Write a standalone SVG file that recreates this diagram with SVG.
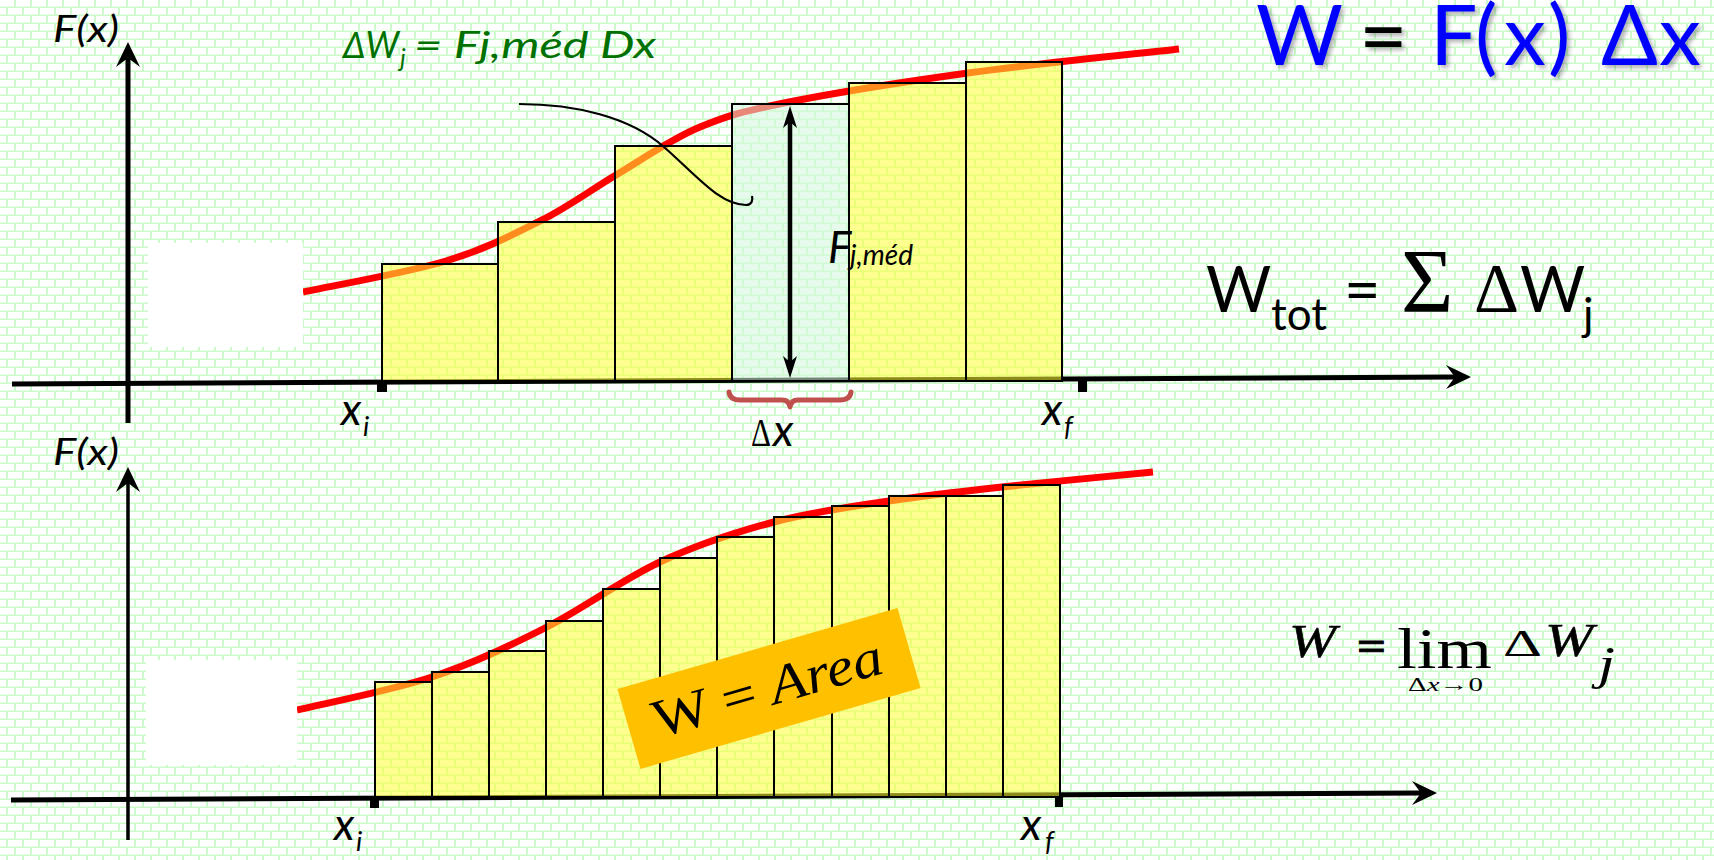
<svg xmlns="http://www.w3.org/2000/svg" width="1714" height="860" viewBox="0 0 1714 860">
<defs>
<pattern id="brick" width="16" height="16" patternUnits="userSpaceOnUse">
<rect width="16" height="16" fill="#ccfacc"/>
<rect x="0" y="0" width="14" height="6.5" fill="#fff"/>
<rect x="0" y="8" width="6" height="6.5" fill="#fff"/>
<rect x="8" y="8" width="8" height="6.5" fill="#fff"/>
</pattern>
<marker id="ah" viewBox="-12 -13 27 26" markerWidth="27" markerHeight="26" refX="0" refY="0" orient="auto" markerUnits="userSpaceOnUse" overflow="visible"><path d="M14,0 L-11,-12 L-2,0 L-11,12 Z" fill="#000"/></marker>
<marker id="ah2" viewBox="-11 -8 24 16" markerWidth="24" markerHeight="16" refX="0" refY="0" orient="auto-start-reverse" markerUnits="userSpaceOnUse" overflow="visible"><path d="M12,0 L-10,-7 L-4,0 L-10,7 Z" fill="#000"/></marker>
<filter id="sh" filterUnits="userSpaceOnUse" x="1230" y="0" width="484" height="100"><feDropShadow dx="3" dy="3" stdDeviation="2" flood-color="#000" flood-opacity="0.3"/></filter>
<style>
.ax{stroke:#000;stroke-width:5;fill:none}
.axt{stroke:#000;stroke-width:3.5;fill:none}
.bar{fill:#ffff33;fill-opacity:.55;stroke:#000;stroke-width:2}
.barg{fill:#d4f7dc;fill-opacity:.55;stroke:#000;stroke-width:2}
.curve{fill:none;stroke:#f00;stroke-width:7}
.sans{font-family:Lato,"Liberation Sans",sans-serif}
.it{font-style:italic}
.serif{font-family:"Liberation Serif",serif}
.lbl{font-family:Lato,"Liberation Sans",sans-serif;font-style:italic;fill:#000}
</style>
</defs>
<rect width="1714" height="860" fill="url(#brick)"/>

<g id="top-chart">
<g id="top-axes">
<line class="ax" x1="128" y1="423" x2="128" y2="56" marker-end="url(#ah)"/>
<line class="ax" x1="12" y1="384" x2="1457" y2="377" marker-end="url(#ah)"/>
<rect x="377" y="382" width="10" height="10" fill="#000"/>
<rect x="1078" y="381" width="9" height="11" fill="#000"/>
</g>
<path id="top-curve" class="curve" d="M303,292 C326.8,286.8 406,273 446,261 C485.8,249 514,234 542,220 C570,205.7 590,190.5 616,175 C642,159.5 671,139 700,127 C729,115 744,111 789,102 C834,93 903,82 968,73 C1033,64 1144,53 1179,49"/>
<g id="top-bars">
<rect class="bar" x="382" y="264" width="116" height="117"/>
<rect class="bar" x="498" y="222" width="117" height="159"/>
<rect class="bar" x="615" y="146" width="117" height="235"/>
<rect class="barg" x="732" y="104" width="117" height="277"/>
<rect class="bar" x="849" y="83" width="117" height="298"/>
<rect class="bar" x="966" y="62" width="96" height="319"/>
</g>
<rect id="top-white" x="148" y="243" width="155" height="104" fill="#fff"/>
</g>

<g id="connectors">
<line x1="790" y1="118" x2="790" y2="366" stroke="#000" stroke-width="4.5" marker-start="url(#ah2)" marker-end="url(#ah2)"/>
<path d="M519,104 C575,104 630,117 664,147 C698,177 720,205 746,205 C752,205 753,200 752,196" fill="none" stroke="#000" stroke-width="2.2"/>
<path d="M729,392 Q730,400 740,400 L782,400 Q789,400 790,407 Q791,400 798,400 L840,400 Q850,400 851,392" fill="none" stroke="#c0504d" stroke-width="5" stroke-linecap="round" stroke-linejoin="round"/>
</g>

<g id="top-labels">
<text class="lbl" x="53" y="42" font-size="36" textLength="66" lengthAdjust="spacingAndGlyphs">F(x)</text>
<text class="lbl"><tspan x="341" y="425" font-size="44">x</tspan><tspan x="363" y="436" font-size="27">i</tspan></text>
<text class="serif" x="751" y="446" font-size="40" textLength="20" lengthAdjust="spacingAndGlyphs">Δ</text>
<text class="lbl" x="773" y="446" font-size="44">x</text>
<text class="lbl"><tspan x="1042" y="425" font-size="44">x</tspan><tspan x="1064" y="436" font-size="27">f</tspan></text>
<text class="lbl"><tspan x="828" y="263" font-size="44">F</tspan><tspan x="850" y="265" font-size="28">j,méd</tspan></text>
</g>

<g id="eq-dw">
<text class="sans it" fill="#007000" x="343" y="58" font-size="37" textLength="56" lengthAdjust="spacingAndGlyphs">ΔW</text>
<text class="sans it" fill="#007000" x="400" y="67" font-size="25">j</text>
<text class="sans it" fill="#007000" x="414" y="58" font-size="37" textLength="242" lengthAdjust="spacingAndGlyphs">= Fj,méd Dx</text>
</g>

<g id="title">
<text class="sans" font-size="84" fill="#0000ff" filter="url(#sh)" y="65"><tspan x="1256">W </tspan><tspan x="1359" fill="#000">= </tspan><tspan x="1430">F</tspan><tspan x="1475">(</tspan><tspan x="1504">x</tspan><tspan x="1548">) </tspan><tspan x="1601">Δ</tspan><tspan x="1659">x</tspan></text>
</g>

<g id="eq-wtot">
<text class="sans" fill="#000"><tspan x="1206" y="312" font-size="63">W</tspan><tspan x="1271" y="330" font-size="44">tot </tspan><tspan x="1344" y="312" font-size="63">= </tspan><tspan class="serif" x="1401" y="312" font-size="90">Σ </tspan><tspan class="serif" x="1474" y="312" font-size="70">Δ</tspan><tspan x="1520" y="312" font-size="63">W</tspan><tspan x="1583" y="330" font-size="44">j</tspan></text>
</g>

<g id="bottom-chart">
<g id="bottom-axes">
<line class="axt" x1="128" y1="840" x2="128" y2="481" marker-end="url(#ah)"/>
<line class="ax" x1="11" y1="800" x2="1423" y2="793" marker-end="url(#ah)"/>
<rect x="370" y="798" width="9" height="10" fill="#000"/>
<rect x="1055" y="796" width="8" height="11" fill="#000"/>
</g>
<path id="bottom-curve" class="curve" stroke-width="8" d="M297,710 C319.5,704.5 390.7,690.7 432,677 C473.3,663.3 507,647.2 545,628 C583,608.8 621.8,579.7 660,562 C698.2,544.3 735.8,532.2 774,522 C812.2,511.8 851,506.8 889,501 C927,495.2 958,491.8 1002,487 C1046,482.2 1127.8,474.5 1153,472"/>
<g id="bottom-bars">
<rect class="bar" x="375" y="682" width="57" height="115"/>
<rect class="bar" x="432" y="672" width="57" height="125"/>
<rect class="bar" x="489" y="651" width="57" height="146"/>
<rect class="bar" x="546" y="621" width="57" height="176"/>
<rect class="bar" x="603" y="589" width="57" height="208"/>
<rect class="bar" x="660" y="558" width="57" height="239"/>
<rect class="bar" x="717" y="537" width="57" height="260"/>
<rect class="bar" x="774" y="517" width="58" height="280"/>
<rect class="bar" x="832" y="506" width="57" height="291"/>
<rect class="bar" x="889" y="496" width="57" height="301"/>
<rect class="bar" x="946" y="496" width="57" height="301"/>
<rect class="bar" x="1003" y="485" width="57" height="312"/>
</g>
<rect id="bottom-white" x="146" y="660" width="151" height="105" fill="#fff"/>
</g>

<g id="bottom-labels">
<text class="lbl" x="53" y="465" font-size="36" textLength="66" lengthAdjust="spacingAndGlyphs">F(x)</text>
<text class="lbl"><tspan x="334" y="840" font-size="44">x</tspan><tspan x="356" y="851" font-size="27">i</tspan></text>
<text class="lbl"><tspan x="1021" y="840" font-size="44">x</tspan><tspan x="1045" y="851" font-size="27">f</tspan></text>
</g>

<g id="area-box" transform="translate(769,688.5) rotate(-16.1)">
<rect x="-145.75" y="-41.6" width="291.5" height="83.2" fill="#ffc000"/>
<text class="serif" x="-120" y="17" font-size="54" textLength="237" lengthAdjust="spacingAndGlyphs" fill="#000">W = <tspan font-style="italic">Area</tspan></text>
</g>

<g id="eq-lim" class="serif" fill="#000">
<text x="1289" y="657" font-size="46" font-style="italic" stroke="#000" stroke-width="0.6" textLength="47" lengthAdjust="spacingAndGlyphs">W</text>
<text x="1357" y="660" font-size="40" font-weight="bold" stroke="#000" stroke-width="1" textLength="29" lengthAdjust="spacingAndGlyphs">=</text>
<text x="1397" y="668" font-size="56" textLength="95" lengthAdjust="spacingAndGlyphs">lim</text>
<text x="1408" y="691" font-size="19" textLength="75" lengthAdjust="spacingAndGlyphs">Δ<tspan font-style="italic">x</tspan>→0</text>
<text x="1503" y="656" font-size="37" textLength="39" lengthAdjust="spacingAndGlyphs">Δ</text>
<text x="1545" y="656" font-size="46" font-style="italic" stroke="#000" stroke-width="0.6" textLength="48" lengthAdjust="spacingAndGlyphs">W</text>
<text x="1598" y="679" font-size="46" font-style="italic" textLength="17" lengthAdjust="spacingAndGlyphs">j</text>
</g>
</svg>
